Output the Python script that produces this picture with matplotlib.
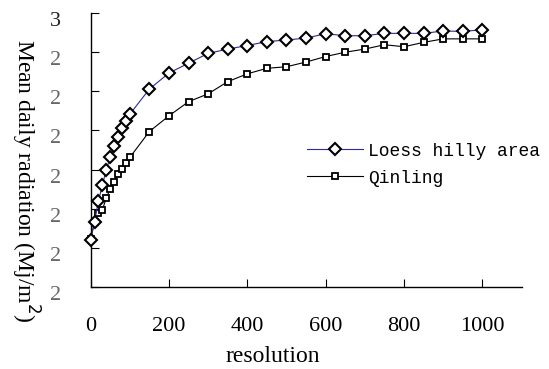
import matplotlib.pyplot as plt
from matplotlib.transforms import ScaledTranslation

# resolution steps
res = [0, 10, 20, 30, 40, 50, 60, 70, 80, 90, 100,
       150, 200, 250, 300, 350, 400, 450, 500, 550, 600,
       650, 700, 750, 800, 850, 900, 950, 1000]

loess = [1.921, 1.966, 2.020, 2.061, 2.099, 2.131, 2.160, 2.184, 2.205, 2.225, 2.241,
         2.305, 2.346, 2.371, 2.396, 2.407, 2.416, 2.426, 2.430, 2.435, 2.446,
         2.441, 2.441, 2.447, 2.447, 2.447, 2.453, 2.452, 2.456]

qinling = [1.924, 1.966, 1.989, 1.997, 2.028, 2.050, 2.069, 2.088, 2.102, 2.118, 2.131,
           2.197, 2.237, 2.273, 2.293, 2.324, 2.344, 2.358, 2.362, 2.374, 2.388,
           2.399, 2.407, 2.418, 2.413, 2.424, 2.433, 2.433, 2.433]

y_ticks = [1.8, 1.9, 2.0, 2.1, 2.2, 2.3, 2.4, 2.5]
y_tick_labels = ['2', '2', '2', '2', '2', '2', '2', '3']
x_ticks = [0, 200, 400, 600, 800, 1000]

fig = plt.figure(figsize=(5.49, 3.69), dpi=100)
ax = fig.add_axes([0.165, 0.221, 0.785, 0.745])

ax.plot(res, qinling, color='black', lw=0.8, marker='s', ms=4.3,
        mfc='white', mec='black', mew=1.3, label='Qinling', clip_on=False, zorder=2)
ax.plot(res, loess, color='#2b2b99', lw=0.8, marker='D', ms=6.3,
        mfc='white', mec='black', mew=1.5, label='Loess hilly area', clip_on=False, zorder=3)

ax.set_xlim(0, 1100)
ax.set_ylim(1.8, 2.5)
ax.set_xticks(x_ticks)
ax.set_yticks(y_ticks)
ax.set_yticklabels(y_tick_labels)

for s in ['top', 'right']:
    ax.spines[s].set_visible(False)
for s in ['left', 'bottom']:
    ax.spines[s].set_linewidth(1.0)

ax.tick_params(axis='both', direction='in', length=6, width=0.8)
ax.tick_params(axis='x', pad=21)
ax.tick_params(axis='y', pad=21)
shift = ScaledTranslation(0, -6 / 100, fig.dpi_scale_trans)
for lab in ax.get_xticklabels():
    lab.set_fontfamily('Liberation Serif')
    lab.set_fontsize(16)
for lab in ax.get_yticklabels():
    lab.set_fontfamily('Liberation Serif')
    lab.set_fontsize(16)
    lab.set_color('#666666')
    lab.set_transform(lab.get_transform() + shift)
ax.get_yticklabels()[-1].set_color('#222222')

fig.text(0.497, 0.033, 'resolution', family='Liberation Serif', fontsize=17,
         ha='center', va='center')
fig.text(0.045, 0.51, 'Mean daily radiation (Mj/m$^2$)', rotation=270,
         family='Liberation Serif', fontsize=17, ha='center', va='center')

# legend order: Loess first
h, l = ax.get_legend_handles_labels()
fig.legend(h[::-1], l[::-1], loc='upper left', bbox_to_anchor=(0.542, 0.638),
           frameon=False, prop={'family': 'Liberation Mono', 'size': 13},
           handlelength=3.1, handletextpad=0.3, labelspacing=0.55, borderpad=0)

fig.savefig('out.png', dpi=100)
